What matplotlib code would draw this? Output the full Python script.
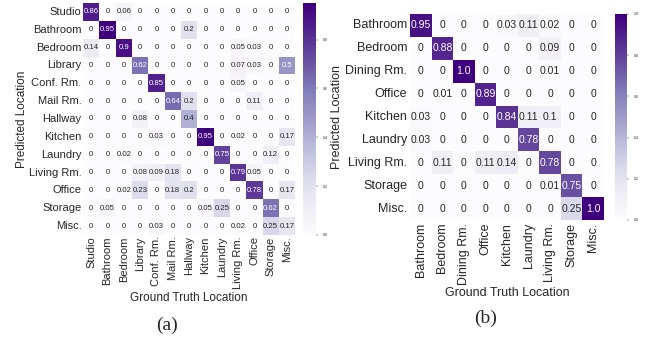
import numpy as np
import matplotlib
matplotlib.use('Agg')
import matplotlib.pyplot as plt
import seaborn as sns

# Panel (a) rooms
rooms_a = ['Studio', 'Bathroom', 'Bedroom', 'Library', 'Conf. Rm.', 'Mail Rm.', 'Hallway',
           'Kitchen', 'Laundry', 'Living Rm.', 'Office', 'Storage', 'Misc.']
conf_a = np.array([
    [0.86, 0, 0.06, 0, 0, 0, 0, 0, 0, 0, 0, 0, 0],
    [0, 0.95, 0, 0, 0, 0, 0.2, 0, 0, 0, 0, 0, 0],
    [0.14, 0, 0.9, 0, 0, 0, 0, 0, 0, 0.05, 0.03, 0, 0],
    [0, 0, 0, 0.62, 0, 0, 0, 0, 0, 0.07, 0.03, 0, 0.5],
    [0, 0, 0, 0, 0.85, 0, 0, 0, 0, 0.05, 0, 0, 0],
    [0, 0, 0, 0, 0, 0.64, 0.2, 0, 0, 0, 0.11, 0, 0],
    [0, 0, 0, 0.08, 0, 0, 0.4, 0, 0, 0, 0, 0, 0],
    [0, 0, 0, 0, 0.03, 0, 0, 0.95, 0, 0.02, 0, 0, 0.17],
    [0, 0, 0.02, 0, 0, 0, 0, 0, 0.75, 0, 0, 0.12, 0],
    [0, 0, 0, 0.08, 0.09, 0.18, 0, 0, 0, 0.79, 0.05, 0, 0],
    [0, 0, 0.02, 0.23, 0, 0.18, 0.2, 0, 0, 0, 0.78, 0, 0.17],
    [0, 0.05, 0, 0, 0, 0, 0, 0.05, 0.25, 0, 0, 0.62, 0],
    [0, 0, 0, 0, 0.03, 0, 0, 0, 0, 0.02, 0, 0.25, 0.17],
])

# Panel (b) rooms
rooms_b = ['Bathroom', 'Bedroom', 'Dining Rm.', 'Office', 'Kitchen', 'Laundry',
           'Living Rm.', 'Storage', 'Misc.']
conf_b = np.array([
    [0.95, 0, 0, 0, 0.03, 0.11, 0.02, 0, 0],
    [0, 0.88, 0, 0, 0, 0, 0.09, 0, 0],
    [0, 0, 1.0, 0, 0, 0, 0.01, 0, 0],
    [0, 0.01, 0, 0.89, 0, 0, 0, 0, 0],
    [0.03, 0, 0, 0, 0.84, 0.11, 0.1, 0, 0],
    [0.03, 0, 0, 0, 0, 0.78, 0, 0, 0],
    [0, 0.11, 0, 0.11, 0.14, 0, 0.78, 0, 0],
    [0, 0, 0, 0, 0, 0, 0.01, 0.75, 0],
    [0, 0, 0, 0, 0, 0, 0, 0.25, 1.0],
])


def fmt_cell(v):
    if v == 0:
        return '0'
    if v == 1:
        return '1.0'
    return '%g' % v


sns.set_style('white')
plt.rcParams['font.family'] = ['Liberation Sans', 'DejaVu Sans']

fig = plt.figure(figsize=(6.47, 3.40), dpi=100)

# (a)
ax_a = fig.add_axes([0.1283, 0.309, 0.328, 0.682])
cax_a = fig.add_axes([0.468, 0.309, 0.020, 0.682])
labels_a = np.vectorize(fmt_cell)(conf_a)
sns.heatmap(conf_a, ax=ax_a, cbar_ax=cax_a, cmap='Purples', annot=labels_a, fmt='',
            annot_kws={'size': 5.6}, xticklabels=rooms_a, yticklabels=rooms_a)
ax_a.set_xticklabels(rooms_a, rotation=90, fontsize=8)
ax_a.set_yticklabels(rooms_a, rotation=0, fontsize=8)
ax_a.tick_params(length=0, pad=1)
ax_a.set_xlabel('Ground Truth Location', fontsize=8.5, labelpad=2)
ax_a.set_ylabel('Predicted Location', fontsize=8.5, labelpad=1)
cax_a.tick_params(labelsize=2.5, length=1.5, width=0.3)
cax_a.set_yticks([0.0, 0.2, 0.4, 0.6, 0.8])

# (b)
ax_b = fig.add_axes([0.6337, 0.353, 0.2998, 0.606])
cax_b = fig.add_axes([0.9505, 0.353, 0.0185, 0.606])
labels_b = np.vectorize(fmt_cell)(conf_b)
sns.heatmap(conf_b, ax=ax_b, cbar_ax=cax_b, cmap='Purples', annot=labels_b, fmt='',
            annot_kws={'size': 7.5}, xticklabels=rooms_b, yticklabels=rooms_b)
ax_b.set_xticklabels(rooms_b, rotation=90, fontsize=9)
ax_b.set_yticklabels(rooms_b, rotation=0, fontsize=9)
ax_b.tick_params(length=0, pad=2)
ax_b.set_xlabel('Ground Truth Location', fontsize=9, labelpad=2)
ax_b.set_ylabel('Predicted Location', fontsize=9, labelpad=2)
cax_b.tick_params(labelsize=2.5, length=1.5, width=0.3)
cax_b.set_yticks([0.0, 0.2, 0.4, 0.6, 0.8, 1.0])

fig.text(0.258, 0.03, '(a)', fontsize=14, family='Liberation Serif', ha='center')
fig.text(0.751, 0.05, '(b)', fontsize=14, family='Liberation Serif', ha='center')

fig.savefig('out.png', dpi=100)
